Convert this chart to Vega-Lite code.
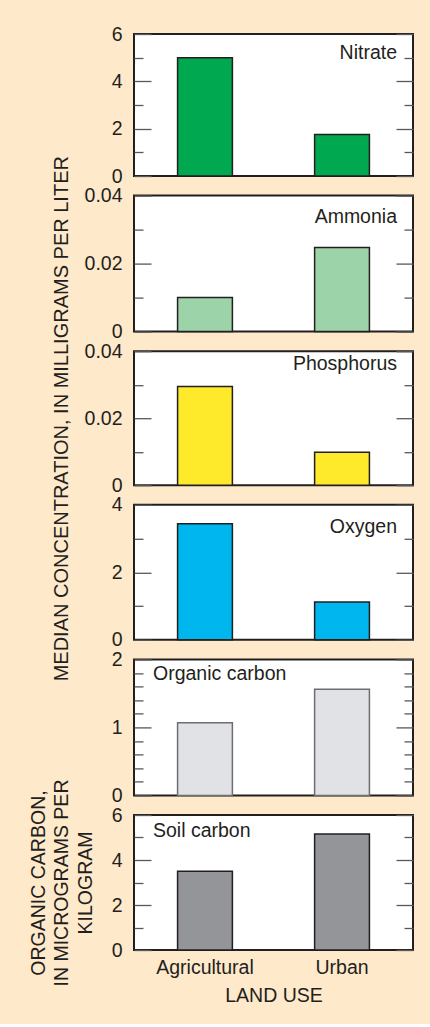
{
  "$schema": "https://vega.github.io/schema/vega-lite/v6.json",
  "background": "#fee9cb",
  "padding": {"left": 27, "top": 23, "right": 17, "bottom": 18},
  "data": {"values": [
    {"panel": "Nitrate", "land_use": "Agricultural", "value": 5.0},
    {"panel": "Nitrate", "land_use": "Urban", "value": 1.75},
    {"panel": "Ammonia", "land_use": "Agricultural", "value": 0.01},
    {"panel": "Ammonia", "land_use": "Urban", "value": 0.0247},
    {"panel": "Phosphorus", "land_use": "Agricultural", "value": 0.0295},
    {"panel": "Phosphorus", "land_use": "Urban", "value": 0.0098},
    {"panel": "Oxygen", "land_use": "Agricultural", "value": 3.44},
    {"panel": "Oxygen", "land_use": "Urban", "value": 1.12},
    {"panel": "Organic carbon", "land_use": "Agricultural", "value": 1.07},
    {"panel": "Organic carbon", "land_use": "Urban", "value": 1.56},
    {"panel": "Soil carbon", "land_use": "Agricultural", "value": 3.5},
    {"panel": "Soil carbon", "land_use": "Urban", "value": 5.16}
  ]},
  "spacing": 19.6,
  "bounds": "flush",
  "resolve": {"scale": {"x": "independent", "y": "independent"}},
  "vconcat": [
    {
      "width": 279, "height": 142,
      "transform": [{"filter": "datum.panel === 'Nitrate'"}],
      "title": {"text": "Nitrate", "anchor": "end", "frame": "group", "baseline": "alphabetic", "offset": -54.5, "dx": -16},
      "layer": [
        {"mark": {"type": "bar", "fill": "#00a84f", "stroke": "#231f20", "strokeWidth": 1.5},
         "encoding": {
           "x": {"field": "land_use", "type": "nominal", "sort": ["Agricultural", "Urban"], "scale": {"domain": ["Agricultural", "Urban"], "paddingInner": 0.6, "paddingOuter": 0.318}, "axis": null},
           "y": {"field": "value", "type": "quantitative", "scale": {"domain": [0, 6], "nice": false},
             "axis": {"title": null, "values": [0, 1, 2, 3, 4, 5, 6], "format": "~g", "labelExpr": "indexof([0,2,4,6], datum.value) >= 0 ? datum.label : ''", "tickSize": {"condition": {"test": "indexof([0,2,4,6], datum.value) >= 0", "value": -17}, "value": -9}, "labelPadding": 29}}}},
        {"mark": {"type": "bar", "opacity": 0},
         "encoding": {
           "x": {"field": "land_use", "type": "nominal", "sort": ["Agricultural", "Urban"], "scale": {"domain": ["Agricultural", "Urban"], "paddingInner": 0.6, "paddingOuter": 0.318}, "axis": null},
           "y": {"field": "value", "type": "quantitative", "scale": {"domain": [0, 6], "nice": false},
             "axis": {"orient": "right", "title": null, "labels": false, "values": [0, 1, 2, 3, 4, 5, 6], "tickSize": {"condition": {"test": "indexof([0,2,4,6], datum.value) >= 0", "value": -17}, "value": -9}}}}}
      ],
      "resolve": {"scale": {"y": "independent"}, "axis": {"y": "independent"}}
    },
    {
      "width": 279, "height": 136,
      "transform": [{"filter": "datum.panel === 'Ammonia'"}],
      "title": {"text": "Ammonia", "anchor": "end", "frame": "group", "baseline": "alphabetic", "offset": -56.4, "dx": -16},
      "layer": [
        {"mark": {"type": "bar", "fill": "#9dd3a8", "stroke": "#231f20", "strokeWidth": 1.5},
         "encoding": {
           "x": {"field": "land_use", "type": "nominal", "sort": ["Agricultural", "Urban"], "scale": {"domain": ["Agricultural", "Urban"], "paddingInner": 0.6, "paddingOuter": 0.318}, "axis": null},
           "y": {"field": "value", "type": "quantitative", "scale": {"domain": [0, 0.04], "nice": false},
             "axis": {"title": null, "values": [0, 0.01, 0.02, 0.03, 0.04], "format": "~g", "labelExpr": "indexof([0,0.02,0.04], datum.value) >= 0 ? datum.label : ''", "tickSize": {"condition": {"test": "indexof([0,0.02,0.04], datum.value) >= 0", "value": -17}, "value": -9}, "labelPadding": 29}}}},
        {"mark": {"type": "bar", "opacity": 0},
         "encoding": {
           "x": {"field": "land_use", "type": "nominal", "sort": ["Agricultural", "Urban"], "scale": {"domain": ["Agricultural", "Urban"], "paddingInner": 0.6, "paddingOuter": 0.318}, "axis": null},
           "y": {"field": "value", "type": "quantitative", "scale": {"domain": [0, 0.04], "nice": false},
             "axis": {"orient": "right", "title": null, "labels": false, "values": [0, 0.01, 0.02, 0.03, 0.04], "tickSize": {"condition": {"test": "indexof([0,0.02,0.04], datum.value) >= 0", "value": -17}, "value": -9}}}}}
      ],
      "resolve": {"scale": {"y": "independent"}, "axis": {"y": "independent"}}
    },
    {
      "width": 279, "height": 134,
      "transform": [{"filter": "datum.panel === 'Phosphorus'"}],
      "title": {"text": "Phosphorus", "anchor": "end", "frame": "group", "baseline": "alphabetic", "offset": -234, "dx": -16},
      "layer": [
        {"mark": {"type": "bar", "fill": "#fee92b", "stroke": "#231f20", "strokeWidth": 1.5},
         "encoding": {
           "x": {"field": "land_use", "type": "nominal", "sort": ["Agricultural", "Urban"], "scale": {"domain": ["Agricultural", "Urban"], "paddingInner": 0.6, "paddingOuter": 0.318}, "axis": null},
           "y": {"field": "value", "type": "quantitative", "scale": {"domain": [0, 0.04], "nice": false},
             "axis": {"title": "MEDIAN CONCENTRATION, IN MILLIGRAMS PER LITER", "titleFontSize": 20, "titlePadding": 13, "values": [0, 0.01, 0.02, 0.03, 0.04], "format": "~g", "labelExpr": "indexof([0,0.02,0.04], datum.value) >= 0 ? datum.label : ''", "tickSize": {"condition": {"test": "indexof([0,0.02,0.04], datum.value) >= 0", "value": -17}, "value": -9}, "labelPadding": 29}}}},
        {"mark": {"type": "bar", "opacity": 0},
         "encoding": {
           "x": {"field": "land_use", "type": "nominal", "sort": ["Agricultural", "Urban"], "scale": {"domain": ["Agricultural", "Urban"], "paddingInner": 0.6, "paddingOuter": 0.318}, "axis": null},
           "y": {"field": "value", "type": "quantitative", "scale": {"domain": [0, 0.04], "nice": false},
             "axis": {"orient": "right", "title": null, "labels": false, "values": [0, 0.01, 0.02, 0.03, 0.04], "tickSize": {"condition": {"test": "indexof([0,0.02,0.04], datum.value) >= 0", "value": -17}, "value": -9}}}}}
      ],
      "resolve": {"scale": {"y": "independent"}, "axis": {"y": "independent"}}
    },
    {
      "width": 279, "height": 135,
      "transform": [{"filter": "datum.panel === 'Oxygen'"}],
      "title": {"text": "Oxygen", "anchor": "end", "frame": "group", "baseline": "alphabetic", "offset": -57.4, "dx": -16},
      "layer": [
        {"mark": {"type": "bar", "fill": "#00b6ee", "stroke": "#231f20", "strokeWidth": 1.5},
         "encoding": {
           "x": {"field": "land_use", "type": "nominal", "sort": ["Agricultural", "Urban"], "scale": {"domain": ["Agricultural", "Urban"], "paddingInner": 0.6, "paddingOuter": 0.318}, "axis": null},
           "y": {"field": "value", "type": "quantitative", "scale": {"domain": [0, 4], "nice": false},
             "axis": {"title": null, "values": [0, 1, 2, 3, 4], "format": "~g", "labelExpr": "indexof([0,2,4], datum.value) >= 0 ? datum.label : ''", "tickSize": {"condition": {"test": "indexof([0,2,4], datum.value) >= 0", "value": -17}, "value": -9}, "labelPadding": 29}}}},
        {"mark": {"type": "bar", "opacity": 0},
         "encoding": {
           "x": {"field": "land_use", "type": "nominal", "sort": ["Agricultural", "Urban"], "scale": {"domain": ["Agricultural", "Urban"], "paddingInner": 0.6, "paddingOuter": 0.318}, "axis": null},
           "y": {"field": "value", "type": "quantitative", "scale": {"domain": [0, 4], "nice": false},
             "axis": {"orient": "right", "title": null, "labels": false, "values": [0, 1, 2, 3, 4], "tickSize": {"condition": {"test": "indexof([0,2,4], datum.value) >= 0", "value": -17}, "value": -9}}}}}
      ],
      "resolve": {"scale": {"y": "independent"}, "axis": {"y": "independent"}}
    },
    {
      "width": 279, "height": 136,
      "transform": [{"filter": "datum.panel === 'Organic carbon'"}],
      "title": {"text": "Organic carbon", "anchor": "start", "frame": "group", "baseline": "alphabetic", "offset": -50.3, "dx": 19},
      "layer": [
        {"mark": {"type": "bar", "fill": "#e1e2e6", "stroke": "#6d6e71", "strokeWidth": 1.5},
         "encoding": {
           "x": {"field": "land_use", "type": "nominal", "sort": ["Agricultural", "Urban"], "scale": {"domain": ["Agricultural", "Urban"], "paddingInner": 0.6, "paddingOuter": 0.318}, "axis": null},
           "y": {"field": "value", "type": "quantitative", "scale": {"domain": [0, 2], "nice": false},
             "axis": {"title": null, "values": [0, 0.2, 0.4, 0.6, 0.8, 1, 1.2, 1.4, 1.6, 1.8, 2], "format": "~g", "labelExpr": "indexof([0,1,2], datum.value) >= 0 ? datum.label : ''", "tickSize": {"condition": {"test": "indexof([0,1,2], datum.value) >= 0", "value": -17}, "value": -9}, "labelPadding": 29}}}},
        {"mark": {"type": "bar", "opacity": 0},
         "encoding": {
           "x": {"field": "land_use", "type": "nominal", "sort": ["Agricultural", "Urban"], "scale": {"domain": ["Agricultural", "Urban"], "paddingInner": 0.6, "paddingOuter": 0.318}, "axis": null},
           "y": {"field": "value", "type": "quantitative", "scale": {"domain": [0, 2], "nice": false},
             "axis": {"orient": "right", "title": null, "labels": false, "values": [0, 0.2, 0.4, 0.6, 0.8, 1, 1.2, 1.4, 1.6, 1.8, 2], "tickSize": {"condition": {"test": "indexof([0,1,2], datum.value) >= 0", "value": -17}, "value": -9}}}}}
      ],
      "resolve": {"scale": {"y": "independent"}, "axis": {"y": "independent"}}
    },
    {
      "width": 279, "height": 135,
      "transform": [{"filter": "datum.panel === 'Soil carbon'"}],
      "title": {"text": "Soil carbon", "anchor": "start", "frame": "group", "baseline": "alphabetic", "offset": -77.4, "dx": 19},
      "layer": [
        {"mark": {"type": "bar", "fill": "#939598", "stroke": "#231f20", "strokeWidth": 1.5},
         "encoding": {
           "x": {"field": "land_use", "type": "nominal", "sort": ["Agricultural", "Urban"], "scale": {"domain": ["Agricultural", "Urban"], "paddingInner": 0.6, "paddingOuter": 0.318},
             "axis": {"title": "LAND USE", "labelAngle": 0, "ticks": false, "domain": false, "labelPadding": 8, "titlePadding": 10}},
           "y": {"field": "value", "type": "quantitative", "scale": {"domain": [0, 6], "nice": false},
             "axis": {"title": ["ORGANIC CARBON,", "IN MICROGRAMS PER", "KILOGRAM"], "titleLineHeight": 23.5, "titlePadding": 16, "values": [0, 1, 2, 3, 4, 5, 6], "format": "~g", "labelExpr": "indexof([0,2,4,6], datum.value) >= 0 ? datum.label : ''", "tickSize": {"condition": {"test": "indexof([0,2,4,6], datum.value) >= 0", "value": -17}, "value": -9}, "labelPadding": 29}}}},
        {"mark": {"type": "bar", "opacity": 0},
         "encoding": {
           "x": {"field": "land_use", "type": "nominal", "sort": ["Agricultural", "Urban"], "scale": {"domain": ["Agricultural", "Urban"], "paddingInner": 0.6, "paddingOuter": 0.318},
             "axis": {"title": "LAND USE", "labelAngle": 0, "ticks": false, "domain": false, "labelPadding": 8, "titlePadding": 10}},
           "y": {"field": "value", "type": "quantitative", "scale": {"domain": [0, 6], "nice": false},
             "axis": {"orient": "right", "title": null, "labels": false, "values": [0, 1, 2, 3, 4, 5, 6], "tickSize": {"condition": {"test": "indexof([0,2,4,6], datum.value) >= 0", "value": -17}, "value": -9}}}}}
      ],
      "resolve": {"scale": {"y": "independent"}, "axis": {"y": "independent"}}
    }
  ],
  "config": {
    "font": "Liberation Sans",
    "view": {"stroke": "#231f20", "strokeWidth": 2, "fill": "white"},
    "axis": {"domain": false, "grid": false, "labelFontSize": 19.5, "labelColor": "#231f20", "labelFont": "Liberation Sans", "titleFontSize": 19.5, "titleFontWeight": "normal", "titleColor": "#231f20", "titleFont": "Liberation Sans", "tickColor": "#58595b", "tickWidth": 1.3, "labelFlush": false, "labelOverlap": false, "labelBaseline": "middle"},
    "axisX": {"labelBaseline": "top"},
    "title": {"fontSize": 19.5, "fontWeight": "normal", "color": "#231f20", "font": "Liberation Sans"}
  }
}
